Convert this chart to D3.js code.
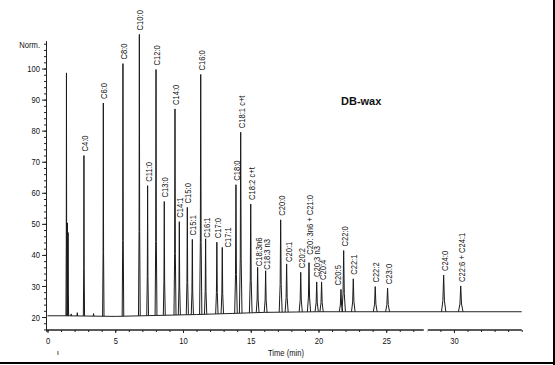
<!DOCTYPE html>
<html><head><meta charset="utf-8">
<script src="https://cdn.jsdelivr.net/npm/d3@7/dist/d3.min.js"></script>
<style>
html,body{margin:0;padding:0;background:#fff;}
svg{display:block;}
text{font-family:"Liberation Sans",Arial,sans-serif;fill:#111;}
</style></head>
<body>
<svg id="chart" width="555" height="365"></svg>
<script>
// ---- data ----
const peakNames = ["C4:0","C6:0","C8:0","C10:0","C11:0","C12:0","C13:0","C14:0","C14:1","C15:0","C15:1","C16:0","C16:1","C17:0","C17:1","C18:0","C18:1 c+t","C18:2 c+t","C18:3n6","C18:3 n3","C20:0","C20:1","C20:2","C20: 3n6 + C21:0","C20:3 n3","C20:4","C20:5","C22:0","C22:1","C22:2","C23:0","C24:0","C22:6 + C24:1"];
const peakTimes = [2.69,4.12,5.57,6.78,7.39,8.01,8.62,9.41,9.73,10.32,10.69,11.31,11.67,12.50,12.90,13.91,14.26,15.00,15.51,16.10,17.21,17.65,18.69,19.30,19.87,20.23,21.66,21.86,22.57,24.19,25.10,29.24,30.50];
const peakHeights = [72.0,88.9,101.6,111.0,62.3,99.7,57.2,87.0,50.7,55.3,45.0,98.1,45.2,44.1,42.4,62.6,79.5,56.4,36.0,34.9,51.3,37.1,34.4,37.5,31.3,31.3,28.9,41.4,32.3,29.8,29.3,33.5,30.0];
// solvent front and small unlabelled peaks
const minorTimes = [1.40,1.47,1.52,1.75,2.20,3.40];
const minorHeights = [98.6,50.3,47.2,21.0,21.4,21.1];
// baseline drift
const baseTimes = [0,1.3,5,8,11,14,16,20,35];
const baseValues = [20.4,20.4,20.2,20.5,20.8,21.2,21.5,21.7,21.7];
const yTicks = [20,30,40,50,60,70,80,90,100];
const xTicks = [0,5,10,15,20,25,30];

// ---- layout ----
const svg = d3.select("#chart");
const x = d3.scaleLinear().domain([0,35]).range([47.5,521.7]);
const y = d3.scaleLinear().domain([15.5,109]).range([331,40.6]);
const base = d3.scaleLinear().domain(baseTimes).range(baseValues);
const SX = 0.8; // condensed look
const labelNudge = { // [dx px, dy px] relative to default label position
  "C16:1":[0,3], "C17:1":[5,4], "C18:3n6":[0,3], "C18:3 n3":[0,3],
  "C20:1":[1,2], "C20: 3n6 + C21:0":[0,-4], "C20:3 n3":[-1,-1], "C20:4":[0,2], "C20:5":[-3.5,0]
};

// frame (right and bottom edges)
svg.append("line").attr("x1",554).attr("x2",554).attr("y1",0).attr("y2",365).attr("stroke","#000").attr("stroke-width",2);
svg.append("line").attr("x1",0).attr("x2",555).attr("y1",363).attr("y2",363).attr("stroke","#000").attr("stroke-width",2);

// y axis
const gy = svg.append("g").attr("transform","translate(46,0)");
gy.call(d3.axisLeft(y).tickValues(d3.range(16,109,2)).tickSize(2).tickSizeOuter(0).tickFormat(""));
gy.append("g").call(d3.axisLeft(y).tickValues(yTicks).tickSize(4).tickSizeOuter(0));
gy.selectAll("path.domain").attr("stroke","#222");
gy.selectAll("line").attr("stroke","#222");
gy.selectAll("text").attr("x",0).attr("transform",`translate(-6,0) scale(${SX},1)`)
  .style("font-size","9.5px").attr("fill","#222");
svg.append("text").attr("transform",`translate(40,45) scale(${SX},1)`).attr("text-anchor","end")
  .attr("dy","0.32em").style("font-size","9.5px").text("Norm.");

// x axis
const gx = svg.append("g").attr("transform","translate(0,330)");
gx.call(d3.axisBottom(x).tickValues(d3.range(0,36,1)).tickSize(2).tickSizeOuter(0).tickFormat(""));
gx.append("g").call(d3.axisBottom(x).tickValues(xTicks).tickSize(3).tickSizeOuter(0));
gx.selectAll("path.domain").attr("d",`M46,0H${x(35)}`).attr("stroke","#222");
gx.selectAll("line").attr("stroke","#222");
gx.selectAll("text").attr("y",0).attr("dy",0).attr("transform",`translate(0,14) scale(${SX},1)`)
  .style("font-size","9.5px").attr("fill","#222");
// axis break
svg.append("rect").attr("x",x(27.77)).attr("y",328).attr("width",4).attr("height",4).attr("fill","#fff");
svg.append("text").attr("transform",`translate(286,356) scale(${SX},1)`).attr("text-anchor","middle")
  .style("font-size","9.5px").attr("fill","#222").text("Time (min)");
svg.append("text").attr("x",57).attr("y",355).style("font-size","8px").attr("fill","#666").text("ι");

// baseline
const line = d3.line().x(d=>x(d[0])).y(d=>y(d[1]));
svg.append("path").attr("d",line(baseTimes.map((t,i)=>[t,baseValues[i]])))
  .attr("fill","none").attr("stroke","#222").attr("stroke-width",1);

// peaks
function peakPath(t,h){
  const hw = (0.45 + 0.06*t)/13.55; // half width in minutes
  const b0 = base(t-hw), b1 = base(t+hw);
  return line([[t-hw,b0],[t-hw*0.35,b0+(h-b0)*0.3],[t,h],[t+hw*0.35,b1+(h-b1)*0.3],[t+hw,b1]]);
}
const allPeaks = peakTimes.map((t,i)=>({t,h:peakHeights[i],name:peakNames[i]}))
  .concat(minorTimes.map((t,i)=>({t,h:minorHeights[i],name:null})));
svg.append("g").selectAll("path").data(allPeaks).join("path")
  .attr("d",d=>peakPath(d.t,d.h)).attr("fill","none").attr("stroke","#1a1a1a").attr("stroke-width",1)
  .attr("stroke-linejoin","miter");

// peak labels
svg.append("g").selectAll("text").data(allPeaks.filter(d=>d.name)).join("text")
  .attr("transform",d=>{const n=labelNudge[d.name]||[0,0];
     return `translate(${x(d.t)+4+n[0]},${y(d.h)-4+n[1]}) rotate(-90) scale(${SX},1)`;})
  .style("font-size","9.5px").attr("fill","#222").text(d=>d.name);

// title
svg.append("text").attr("x",341).attr("y",105).style("font-size","11px").style("font-weight","bold")
  .attr("fill","#111").text("DB-wax");
</script>
</body></html>
